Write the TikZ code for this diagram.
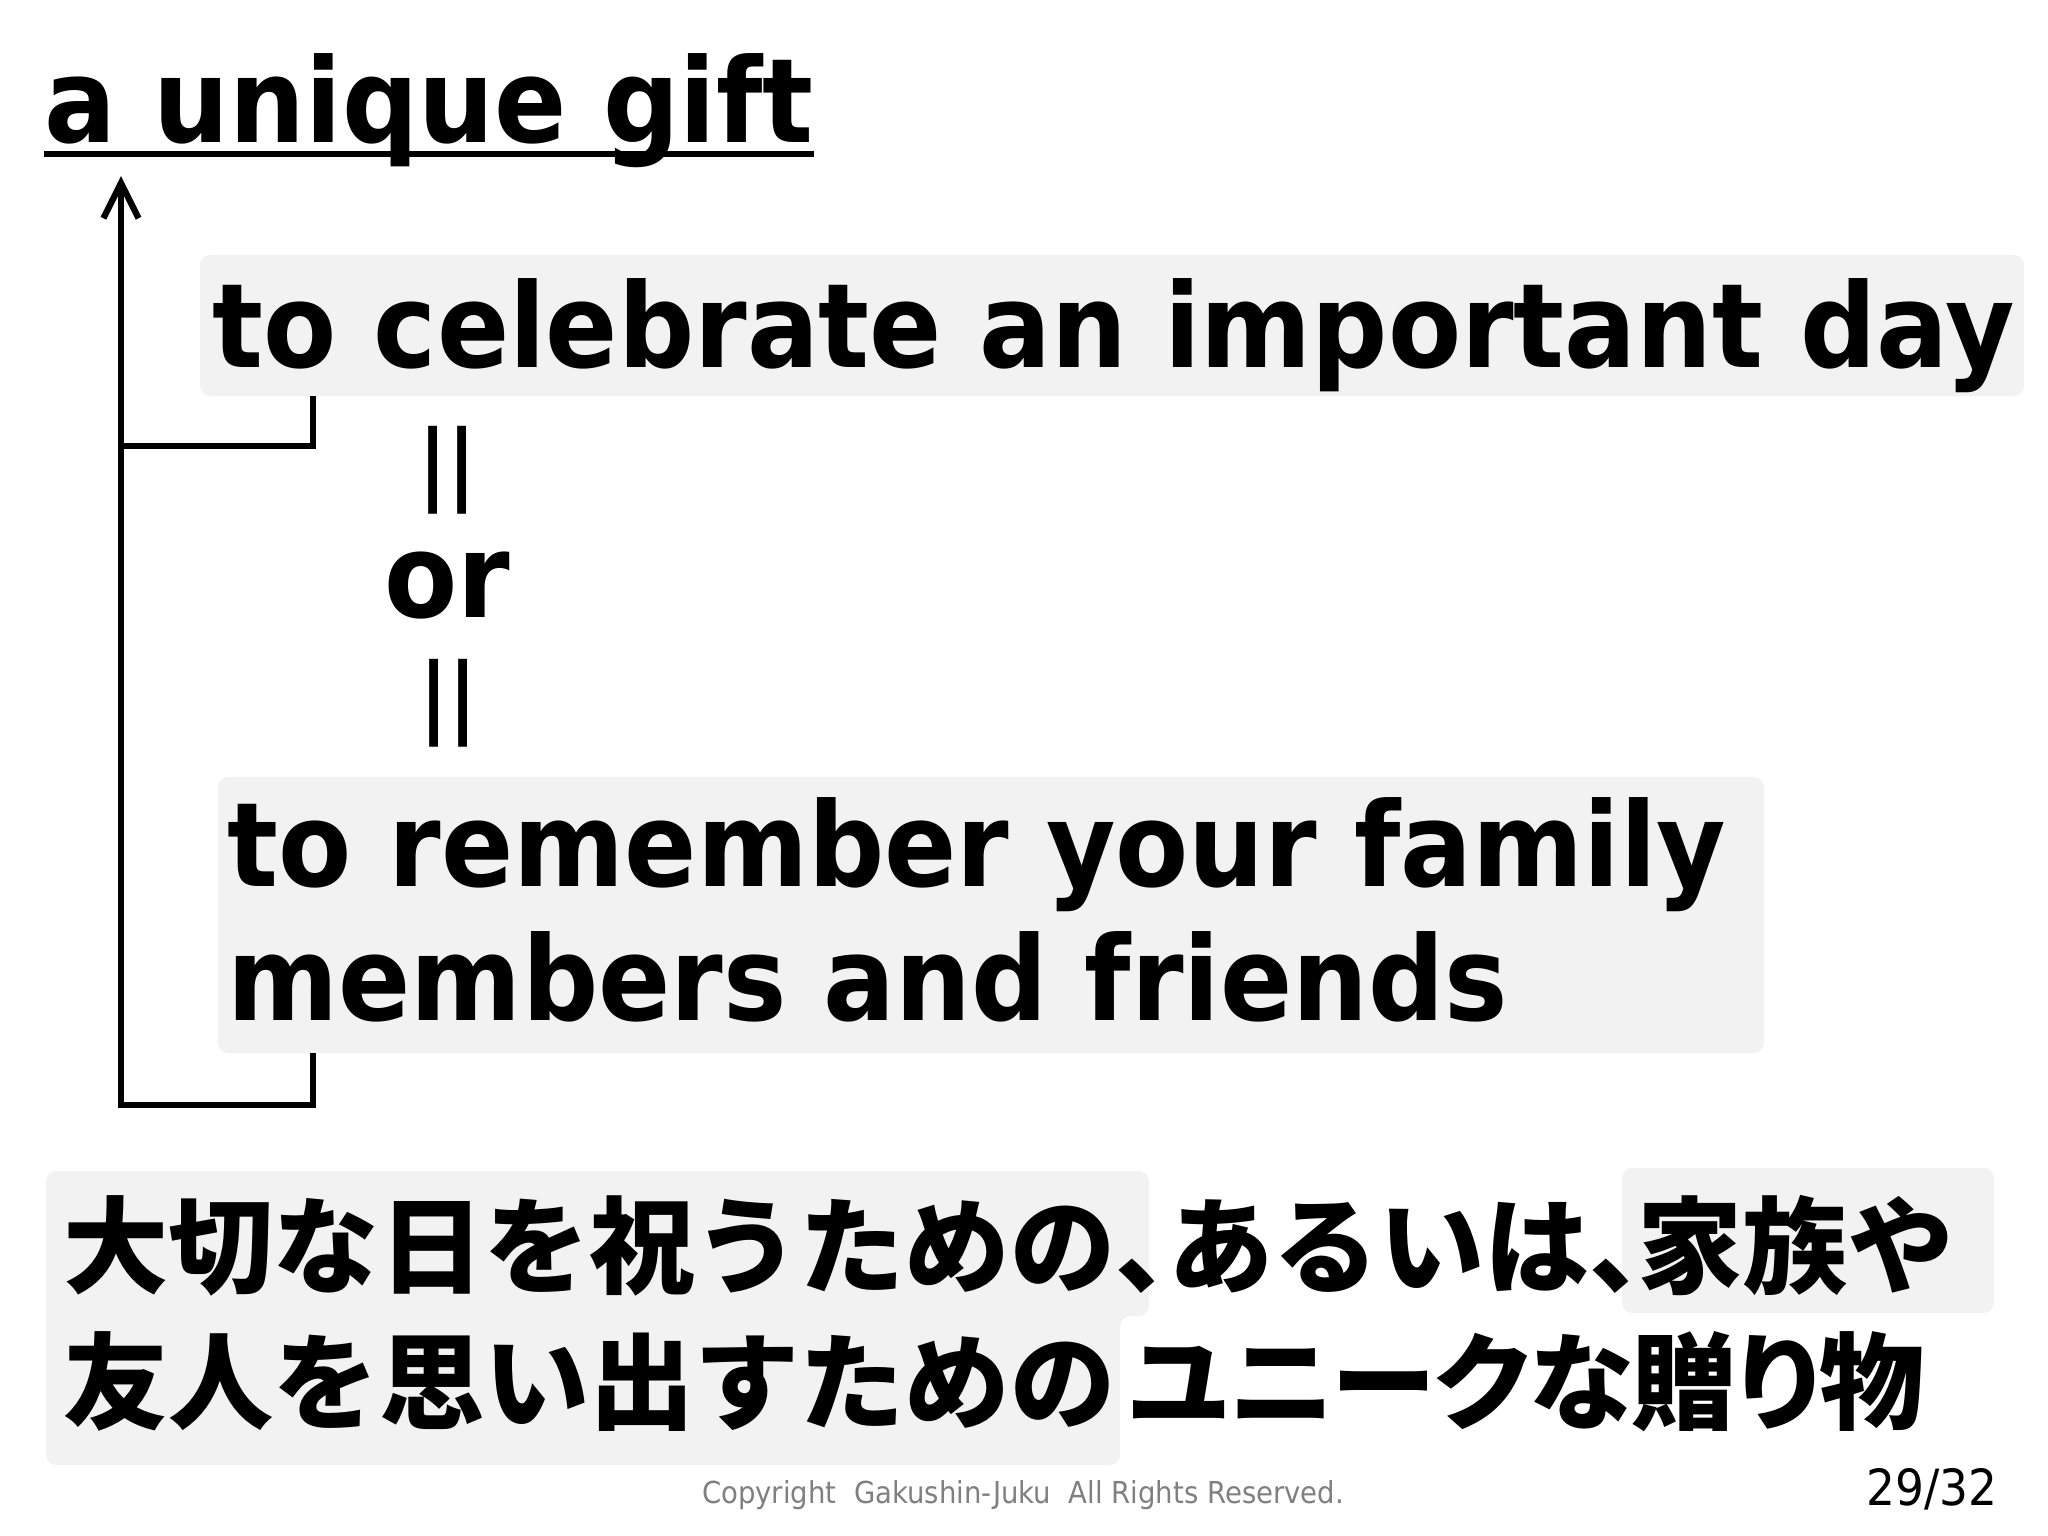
\documentclass[tikz,border=0pt]{standalone}
\usepackage{fontspec}
\setmainfont{DejaVu Sans}[FakeStretch=0.91]
\newfontfamily\jpfont{Noto Sans CJK JP}
\usepackage{tikz}
\usetikzlibrary{calc,positioning,arrows.meta}
\definecolor{panelgray}{HTML}{F2F2F2}
\definecolor{notegray}{HTML}{808080}
\tikzstyle{phrase} = [inner sep=0, font=\fontsize{33.3pt}{38pt}\selectfont\bfseries]
\tikzstyle{equal} = [inner sep=0, font=\fontsize{25pt}{30pt}\selectfont\bfseries]
\tikzstyle{gloss} = [inner sep=0, anchor=base west, font=\fontsize{29.9pt}{36pt}\selectfont\jpfont\bfseries]
\tikzstyle{panel} = [fill=panelgray, rounded corners=3pt, inner sep=0, outer sep=0, anchor=north west]
\tikzstyle{link} = [line width=1.8pt]
\tikzset{x=0.01cm, y=-0.01cm, node distance=0.4cm}

\begin{document}
\begin{tikzpicture}
\useasboundingbox[fill=white] (0,0) rectangle (2048,1536);

\node[phrase, anchor=base west] (gift) at (44,142) {a unique gift};
\draw[line width=1.5pt] ($(gift.base west)+(0,12)$) -- ($(gift.base east)+(0,12)$);

\node[panel, minimum width=18.23cm, minimum height=1.41cm] (box1) at (200,255) {};
\node[phrase, anchor=base west] (day) at (212,367) {to celebrate an important day};

\node[equal] (eq1) at (448,470) {||};
\node[phrase, anchor=base] (or) at (447,617) {or};
\node[equal] (eq2) at (449,703) {||};

\node[panel, minimum width=15.45cm, minimum height=2.76cm] (box2) at (218,777) {};
\node[phrase, anchor=base west] (fam1) at (227,886) {to remember your family};
\node[phrase, anchor=base west] (fam2) at (227,1020) {members and friends};

\coordinate (tip) at ($(gift.base west)+(77,34)$);
\coordinate (stem) at (121,1105);
\draw[link, {Straight Barb[length=10pt,width=10pt]}-] (tip) -- (stem) -| ([xshift=0.95cm]box2.south west);
\draw[link] ([xshift=1.13cm]box1.south west) -- ++(0,50) coordinate (k1) -- (k1 -| stem);

\fill[panelgray, rounded corners=3pt] (46,1171) -- (1149,1171) -- (1149,1316) -- (1120,1316) -- (1120,1465) -- (46,1465) -- cycle;
\fill[panelgray, rounded corners=3pt] (1622,1168) rectangle (1994,1313);

\node[gloss] (jp1) at (63,1285) {大切な日を祝うための、};
\node[gloss] (jp2) at (1168,1285) {あるいは、};
\node[gloss] (jp3) at (1637,1285) {家族や};
\node[gloss] (jp4) at (63,1421) {友人を思い出すための};
\node[gloss, font=\fontsize{29.9pt}{36pt}\selectfont\jpfont\bfseries\addfontfeatures{RawFeature=+palt}] (jp5) at (1128,1421) {ユニークな贈り物};

\node[inner sep=0, anchor=base, text=notegray, font=\fontsize{8.6pt}{10pt}\selectfont] (copy) at (1023,1503) {Copyright\ \ Gakushin-Juku\ \ All Rights Reserved.};
\node[inner sep=0, anchor=base east, font=\fontsize{14.2pt}{17pt}\selectfont] (page) at (1998,1505) {29/32};
\end{tikzpicture}
\end{document}
